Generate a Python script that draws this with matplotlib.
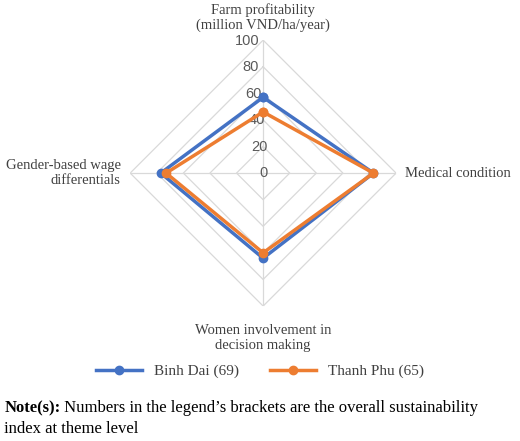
import numpy as np
import matplotlib.pyplot as plt

plt.rcParams['font.family'] = ['Liberation Serif', 'DejaVu Serif']

categories = ["Farm profitability\n(million VND/ha/year)", "Medical condition",
              "Women involvement in\ndecision making", "Gender-based wage\ndifferentials"]
binh_dai = [57, 83, 64, 77]
thanh_phu = [46, 83, 60, 73]
ticks = [0, 20, 40, 60, 80, 100]

fig = plt.figure(figsize=(5.2, 4.41), dpi=100)
ax = fig.add_axes([0.25, 0.306, 0.512, 0.603], projection="polar")
ax.set_theta_offset(np.pi / 2)
ax.set_theta_direction(-1)
ax.set_ylim(0, 100)
ax.grid(False)
ax.spines["polar"].set_visible(False)
ax.set_xticks([])
ax.set_yticks([])

angles = np.linspace(0, 2 * np.pi, len(categories), endpoint=False)
closed = np.append(angles, angles[0])

for t in ticks[1:]:
    ax.plot(closed, [t] * (len(angles) + 1), color="#d9d9d9", lw=0.9, zorder=1)
for a in angles:
    ax.plot([a, a], [0, 100], color="#d9d9d9", lw=0.9, zorder=1)
for t in ticks:
    ax.text(-0.12, t, str(t), ha="center", va="center", fontsize=10.5,
            color="#595959", family=["Liberation Sans"])

series = [("Binh Dai (69)", binh_dai, "#4472c4"), ("Thanh Phu (65)", thanh_phu, "#ed7d31")]
for name, vals, col in series:
    v = np.append(vals, vals[0])
    ax.plot(closed, v, color=col, lw=2.5, marker="o", ms=6, label=name, zorder=3)

ax.text(0, 117, categories[0], ha="center", va="center", fontsize=10.5, color="#404040")
ax.text(angles[1], 107, categories[1], ha="left", va="center", fontsize=10.5, color="#404040")
ax.text(angles[2], 124, categories[2], ha="center", va="center", fontsize=10.5, color="#404040")
ax.text(angles[3], 107, categories[3], ha="right", va="center", fontsize=10.5, color="#404040")

fig.legend(loc="center", bbox_to_anchor=(0.5, 0.158), ncol=2, frameon=False,
           fontsize=11, handlelength=3, labelcolor="#404040", columnspacing=2)

note = fig.text(0.008, 0.075, "Note(s):", fontsize=12, fontweight="bold", ha="left", va="center")
fig.canvas.draw()
ax.annotate(" Numbers in the legend’s brackets are the overall sustainability",
            xy=(1, 0.5), xycoords=note, ha="left", va="center", fontsize=12)
fig.text(0.008, 0.028, "index at theme level", fontsize=12, ha="left", va="center")

fig.savefig("out.png", dpi=100)
